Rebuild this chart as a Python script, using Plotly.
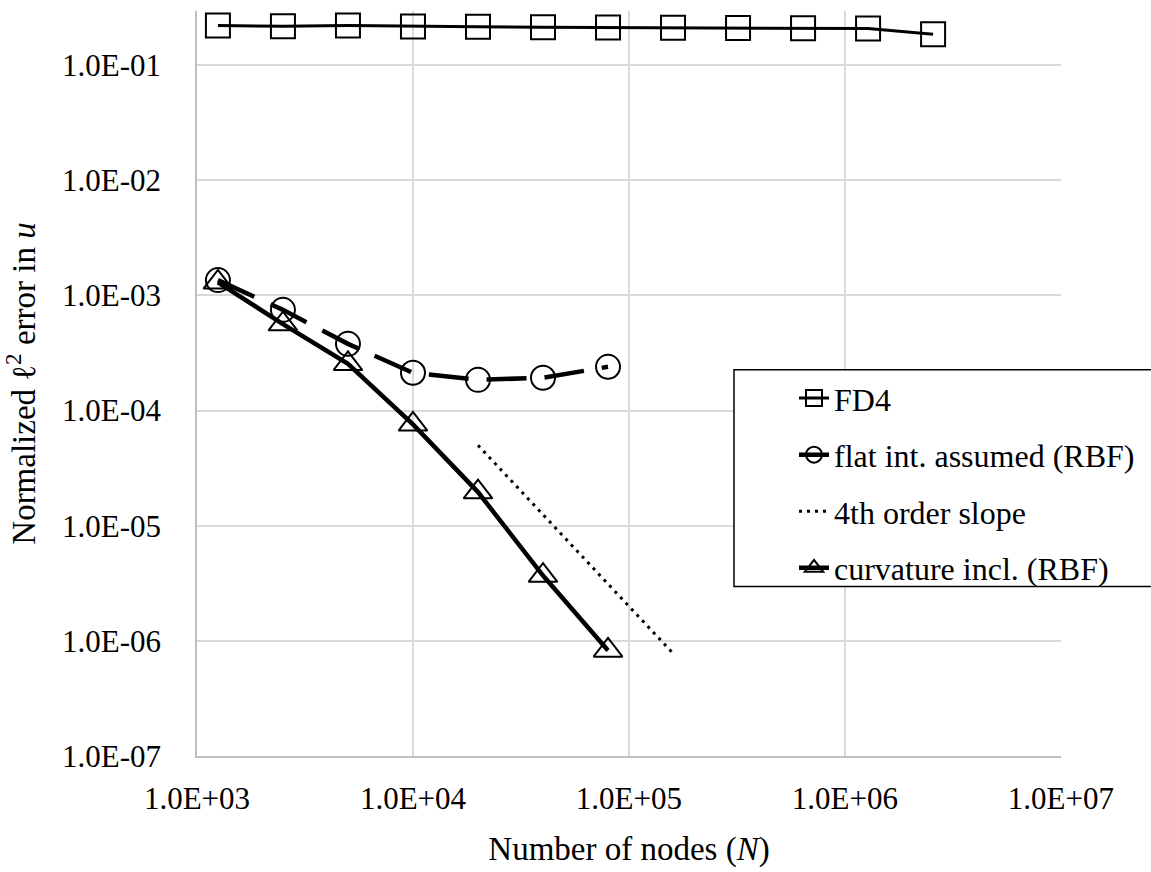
import plotly.graph_objects as go

# ---------------- data ----------------
N_fd4 = [1250, 2500, 5000, 10000, 20000, 40000, 80000, 160000, 320000,
         640000, 1280000, 2560000]
err_fd4 = [0.221, 0.218, 0.221, 0.217, 0.216, 0.214, 0.213, 0.212, 0.211,
           0.210, 0.208, 0.186]

N_rbf = [1250, 2500, 5000, 10000, 20000, 40000, 80000]
err_flat = [1.36e-3, 7.5e-4, 3.8e-4, 2.13e-4, 1.85e-4, 1.93e-4, 2.4e-4]
err_curv = [1.3e-3, 5.65e-4, 2.55e-4, 7.6e-5, 1.96e-5, 3.69e-6, 8.26e-7]

N_slope = [20000, 160000]
err_slope = [5.0e-5, 7.8e-7]

x_tickvals = [1e3, 1e4, 1e5, 1e6, 1e7]
x_ticktext = ["1.0E+03", "1.0E+04", "1.0E+05", "1.0E+06", "1.0E+07"]
y_tickvals = [1e-7, 1e-6, 1e-5, 1e-4, 1e-3, 1e-2, 1e-1]
y_ticktext = ["1.0E-07", "1.0E-06", "1.0E-05", "1.0E-04", "1.0E-03",
              "1.0E-02", "1.0E-01"]

names = ["FD4", "flat int. assumed (RBF)", "4th order slope",
         "curvature incl. (RBF)"]

# ---------------- figure ----------------
FONT = "'Liberation Serif', 'Times New Roman', Tinos, 'DejaVu Serif', serif"
clear = "rgba(0,0,0,0)"

fig = go.Figure()

fig.add_trace(go.Scatter(
    x=N_fd4, y=err_fd4, name=names[0], legendgroup="a",
    mode="lines+markers",
    line=dict(color="black", width=3),
    marker=dict(symbol="square", size=24, color=clear,
                line=dict(color="black", width=2)),
))
fig.add_trace(go.Scatter(
    x=N_rbf, y=err_flat, name=names[1], legendgroup="b",
    mode="lines+markers",
    line=dict(color="black", width=4.5, dash="40px,18px"),
    marker=dict(symbol="circle", size=24, color=clear,
                line=dict(color="black", width=2)),
))
fig.add_trace(go.Scatter(
    x=N_slope, y=err_slope, name=names[2], legendgroup="c",
    mode="lines",
    line=dict(color="black", width=3, dash="3px,5px"),
))
fig.add_trace(go.Scatter(
    x=N_rbf, y=err_curv, name=names[3], legendgroup="d",
    mode="lines+markers",
    line=dict(color="black", width=4.5),
    marker=dict(symbol="triangle-up", size=25, color=clear,
                line=dict(color="black", width=2)),
))

W, H = 1151, 872
ML, MR, MT, MB = 197, 90, 11, 101
plot_h = H - MT - MB


def px_x(p):
    return (p - ML) / (W - ML - MR)


def px_y(p):
    return (H - MB - p) / plot_h


fig.update_layout(
    width=W, height=H,
    margin=dict(l=ML, r=MR, t=MT, b=MB, pad=0),
    paper_bgcolor="white", plot_bgcolor="white",
    font=dict(family=FONT, color="black", size=30),
    showlegend=True,
    legend=dict(
        x=px_x(794), y=px_y(378), xanchor="left", yanchor="top",
        bgcolor=clear, borderwidth=0,
        font=dict(family=FONT, size=32, color="black"),
        traceorder="grouped", tracegroupgap=12,
        itemwidth=30,
    ),
    shapes=[dict(
        type="rect", xref="paper", yref="paper",
        x0=px_x(734), x1=px_x(1240), y0=px_y(598), y1=px_y(377),
        line=dict(color="black", width=1.5),
        fillcolor="white", layer="above",
    )],
    xaxis=dict(
        type="log", range=[3, 7.0005],
        tickvals=x_tickvals, ticktext=x_ticktext,
        tickfont=dict(family=FONT, size=31, color="black"),
        ticks="", ticklabelstandoff=14,
        showgrid=True, gridcolor="#D9D9D9", gridwidth=1.5,
        showline=True, linecolor="#BFBFBF", linewidth=1.5,
        zeroline=False,
        title=dict(text="Number of nodes (<i>N</i>)", standoff=22,
                   font=dict(family=FONT, size=33, color="black")),
    ),
    yaxis=dict(
        type="log", range=[-7, -0.529],
        tickvals=y_tickvals, ticktext=y_ticktext,
        tickfont=dict(family=FONT, size=31, color="black"),
        ticks="", ticklabelstandoff=28,
        showgrid=True, gridcolor="#D9D9D9", gridwidth=1.5,
        showline=True, linecolor="#BFBFBF", linewidth=1.5,
        zeroline=False,
        title=dict(text="Normalized ℓ<sup>2</sup> error in <i>u</i>",
                   standoff=22,
                   font=dict(family=FONT, size=33, color="black")),
    ),
)

fig.write_html("out.html",
               config={"displayModeBar": False},
               post_script="document.body.style.margin='0';document.body.style.overflow='hidden';")
